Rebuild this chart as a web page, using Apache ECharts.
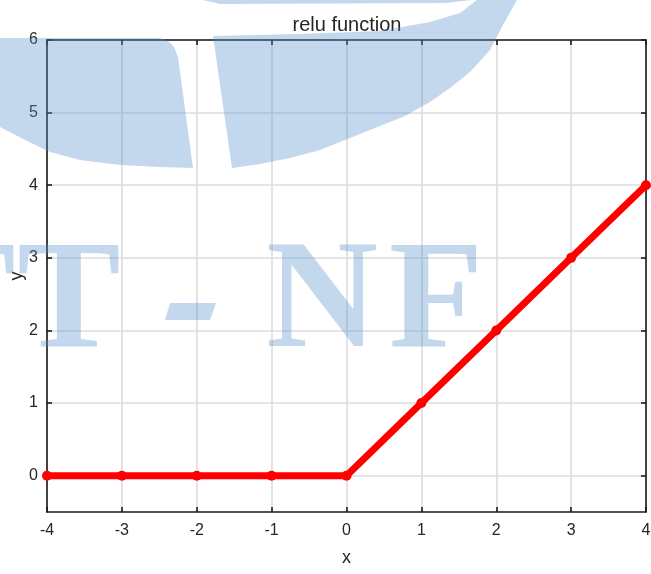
<!DOCTYPE html>
<html>
<head>
<meta charset="utf-8">
<script src="https://cdn.jsdelivr.net/npm/echarts@6/dist/echarts.min.js"></script>
<style>
  html, body { margin: 0; padding: 0; background: #ffffff; }
  #chart { width: 651px; height: 574px; }
</style>
</head>
<body>
<div id="chart"></div>
<script>
// relu(x) sampled at the integers
const xValues = [-4, -3, -2, -1, 0, 1, 2, 3, 4];
const reluValues = [0, 0, 0, 0, 0, 1, 2, 3, 4];
const xTicks = [-4, -3, -2, -1, 0, 1, 2, 3, 4];
const yTicks = [0, 1, 2, 3, 4, 5, 6];

const sans = 'Liberation Sans, Arial, sans-serif';
const labelFont = { fontFamily: sans, fontSize: 16, color: '#262626' };
const nameFont = { fontFamily: sans, fontSize: 18, color: '#262626' };
const frameLine = { show: true, onZero: false, lineStyle: { color: '#1a1a1a', width: 1.6 } };
const gridLine = { show: true, lineStyle: { color: '#dcdcdc', width: 1.6 } };
const innerTick = { show: true, inside: true, length: 5, lineStyle: { color: '#1a1a1a', width: 1.6 } };

// background watermark: translucent logo shapes and lettering
const wmFill = 'rgba(89,146,201,0.36)';
const wmFont = 'bold 155px "Liberation Serif", "Times New Roman", serif';
const wmY = 306;
const watermark = [
  { type: 'polygon', shape: { points: [[203,0],[472,0],[445,3],[220,4]] }, style: { fill: wmFill } },
  { type: 'polygon', shape: { points: [
      [213,36],[300,34],[380,31],[430,22],[460,13],[477,0],[517,0],[503,25],[490,50],
      [470,72],[450,88],[430,102],[405,116],[380,126],[350,138],[320,150],[290,158],
      [260,164],[232,168]] }, style: { fill: wmFill } },
  { type: 'polygon', shape: { points: [
      [0,38],[160,38],[168,41],[174,47],[178,57],[193,168],[160,167],[120,165],
      [80,160],[50,152],[25,140],[0,127]] }, style: { fill: wmFill } },
  { type: 'polygon', shape: { points: [[170,303],[216,303],[210,320],[165,320]] }, style: { fill: wmFill } },
  { type: 'text', x: -36, y: wmY, style: { text: 'T', font: wmFont, fill: wmFill, align: 'center', verticalAlign: 'middle' } },
  { type: 'text', x: 69, y: wmY, style: { text: 'T', font: wmFont, fill: wmFill, align: 'center', verticalAlign: 'middle' } },
  { type: 'text', x: 322, y: wmY, style: { text: 'N', font: wmFont, fill: wmFill, align: 'center', verticalAlign: 'middle' } },
  { type: 'text', x: 436, y: wmY, style: { text: 'F', font: wmFont, fill: wmFill, align: 'center', verticalAlign: 'middle' } }
];

const chart = echarts.init(document.getElementById('chart'), null, { renderer: 'canvas' });
chart.setOption({
  animation: false,
  backgroundColor: '#ffffff',
  title: {
    text: 'relu function',
    left: 342, top: 10, textAlign: 'center',
    textStyle: { fontFamily: sans, fontSize: 20, fontWeight: 'normal', color: '#262626' }
  },
  grid: { left: 47, right: 5, top: 40, bottom: 62, containLabel: false, outerBoundsMode: 'none' },
  xAxis: [
    {
      type: 'value', position: 'bottom', min: -4, max: 4, interval: 1,
      name: 'x', nameLocation: 'middle', nameGap: 37, nameMoveOverlap: false,
      nameTextStyle: nameFont,
      axisLine: frameLine, axisTick: innerTick, splitLine: gridLine,
      axisLabel: Object.assign({ margin: 11, customValues: xTicks }, labelFont)
    },
    {
      type: 'value', position: 'top', min: -4, max: 4, interval: 1,
      axisLine: frameLine, axisTick: innerTick, splitLine: { show: false },
      axisLabel: { show: false }
    }
  ],
  yAxis: [
    {
      type: 'value', position: 'left', min: -0.5, max: 6,
      name: 'y', nameLocation: 'middle', nameGap: 21, nameRotate: 90, nameMoveOverlap: false,
      nameTextStyle: nameFont,
      axisLine: frameLine,
      axisTick: Object.assign({ customValues: yTicks }, innerTick),
      splitLine: gridLine,
      axisLabel: Object.assign({ margin: 9, customValues: yTicks }, labelFont)
    },
    {
      type: 'value', position: 'right', min: -0.5, max: 6,
      axisLine: frameLine,
      axisTick: Object.assign({ customValues: yTicks }, innerTick),
      splitLine: { show: false },
      axisLabel: { show: false }
    }
  ],
  series: [{
    type: 'line',
    data: xValues.map((x, i) => [x, reluValues[i]]),
    symbol: 'circle', symbolSize: 10,
    lineStyle: { color: '#ff0000', width: 7 },
    itemStyle: { color: '#ff0000' },
    z: 3
  }],
  graphic: { elements: watermark.map(e => Object.assign({ z: 100, silent: true }, e)) }
});
</script>
</body>
</html>
